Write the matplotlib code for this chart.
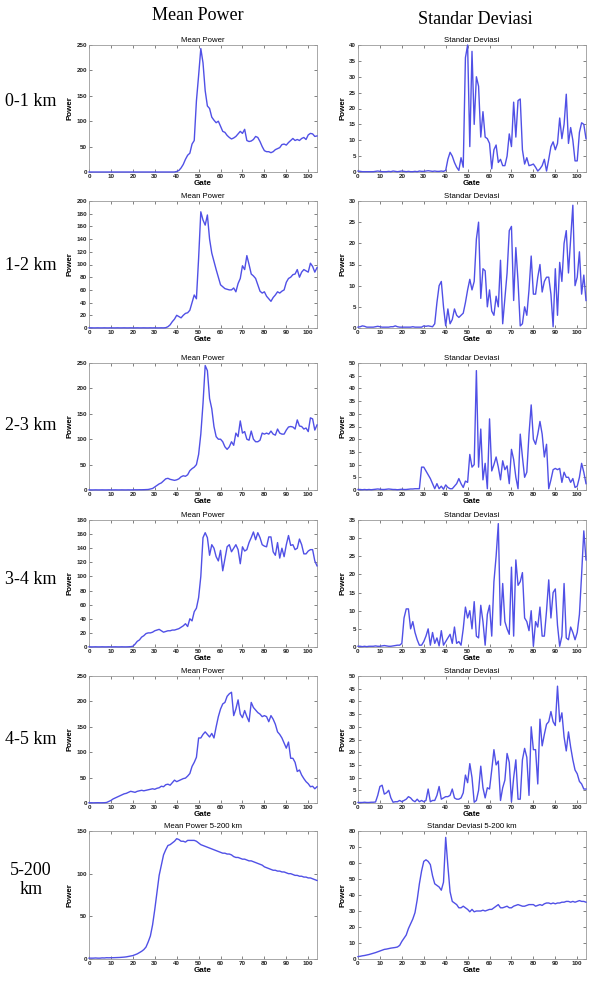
"""
Mean power and standard deviation per gate, six height ranges (0-1 km .. 5-200 km)
"""

import matplotlib
matplotlib.use('Agg')
import matplotlib.pyplot as plt
import numpy as np

plt.rcParams['font.family'] = 'Liberation Sans'

gate = np.arange(0, 105)

# ---- 0-1 km ----
mean_0_1 = [0, 0, 0, 0, 0, 0, 0, 0, 0, 0,
            0, 0, 0, 0, 0, 0, 0, 0, 0, 0,
            0, 0, 0, 0, 0, 0, 0, 0, 0, 0,
            0, 0, 0, 0, 0, 0, 0, 0, 0, 0,
            1, 3, 8, 15, 25, 33, 37, 55, 62, 140,
            190, 243, 215, 160, 130, 125, 108, 102, 97, 100,
            90, 80, 78, 72, 68, 65, 67, 70, 75, 80,
            76, 84, 62, 60, 61, 64, 70, 68, 60, 50,
            42, 40, 40, 38, 40, 44, 46, 48, 54, 55,
            53, 58, 62, 66, 62, 64, 62, 66, 68, 64,
            73, 76, 75, 70, 71]
std_0_1 = [0.3, 0.2, 0.1, 0.1, 0.1, 0.1, 0.1, 0.1, 0.2, 0.3,
           0.2, 0.1, 0.1, 0.1, 0.2, 0.1, 0.3, 0.2, 0.1, 0.2,
           0.3, 0.2, 0.1, 0.2, 0.1, 0.1, 0.2, 0.1, 0.3, 0.2,
           0.2, 0.3, 0.4, 0.3, 0.2, 0.3, 0.2, 0.2, 0.3, 0.2,
           0.5, 4, 6.2, 5, 3, 1.5, 0.5, 4.5, 1.5, 36,
           40, 8, 38, 15, 30, 27, 11, 19, 11, 10.5,
           9, 1, 7, 8.5, 3, 4, 2, 2, 5, 12,
           8, 22, 11, 22.5, 23, 7, 2.5, 4.5, 2, 2.2,
           2.5, 1.5, 0.3, 1, 2, 4, 0.3, 4, 8, 9.5,
           7, 9, 17, 10.5, 15, 24.5, 9, 14, 10, 3.5,
           3.5, 12.5, 15.5, 15, 10.5]

# ---- 1-2 km ----
mean_1_2 = [0.3, 0.3, 0.2, 0.2, 0.3, 0.2, 0.2, 0.3, 0.2, 0.2,
            0.3, 0.2, 0.2, 0.3, 0.2, 0.2, 0.3, 0.2, 0.2, 0.3,
            0.2, 0.2, 0.3, 0.2, 0.2, 0.3, 0.2, 0.2, 0.3, 0.2,
            0.3, 0.2, 0.2, 0.3, 0.2, 0.5, 2, 5, 10, 14,
            20, 18, 16, 20, 23, 24, 28, 40, 52, 46,
            110, 183, 170, 162, 178, 140, 118, 105, 92, 80,
            68, 65, 62, 61, 60, 60, 63, 57, 70, 78,
            98, 92, 114, 100, 85, 82, 78, 68, 58, 55,
            57, 50, 46, 42, 48, 52, 57, 55, 58, 60,
            72, 78, 80, 84, 85, 92, 80, 88, 92, 90,
            88, 102, 97, 88, 95]
std_1_2 = [0.2, 0.3, 0.5, 0.4, 0.2, 0.2, 0.2, 0.2, 0.3, 0.4,
           0.3, 0.2, 0.2, 0.2, 0.2, 0.3, 0.3, 0.5, 0.3, 0.2,
           0.2, 0.2, 0.2, 0.2, 0.2, 0.3, 0.2, 0.2, 0.2, 0.2,
           0.5, 0.4, 0.5, 0.4, 0.3, 1, 6, 10, 11, 5,
           0.5, 4.5, 1, 2, 4.5, 3, 2.5, 3, 3.5, 6,
           9, 11.5, 9, 11, 21, 25, 7, 14, 13.5, 5,
           9, 4, 3, 7.5, 5, 16, 1, 7, 13, 23,
           24, 6.5, 19, 11, 0.5, 1, 5, 3, 9, 17,
           8, 8, 12, 15, 8.5, 11, 12, 12, 8, 0.3,
           14, 3, 15.5, 11, 20, 23, 13, 21, 29, 10,
           12, 18, 8, 12.5, 6.5]

# ---- 2-3 km ----
mean_2_3 = [0.3, 0.2, 0.2, 0.3, 0.2, 0.2, 0.3, 0.2, 0.2, 0.3,
            0.2, 0.2, 0.3, 0.2, 0.2, 0.3, 0.2, 0.2, 0.3, 0.2,
            0.3, 0.4, 0.4, 0.5, 0.5, 0.6, 0.8, 1, 2, 3,
            6, 9, 12, 14, 18, 22, 23, 21, 20, 19,
            20, 22, 26, 28, 27, 30, 38, 42, 45, 50,
            70, 110, 170, 245, 235, 180, 160, 125, 105, 100,
            100, 95, 85, 80, 85, 95, 88, 112, 105, 136,
            112, 115, 100, 98, 116, 100, 95, 95, 98, 112,
            110, 112, 110, 116, 110, 108, 120, 112, 110, 110,
            118, 124, 125, 124, 120, 138, 126, 125, 120, 122,
            115, 142, 140, 118, 128]
std_2_3 = [0.2, 0.2, 0.1, 0.2, 0.1, 0.2, 0.1, 0.2, 0.3, 0.4,
           0.3, 0.2, 0.2, 0.3, 0.4, 0.3, 0.2, 0.2, 0.1, 0.2,
           0.3, 0.2, 0.2, 0.3, 0.4, 0.4, 0.5, 0.5, 0.5, 9,
           9, 7.5, 6, 4.5, 2.5, 0.5, 2.5, 0.5, 1.5, 0.3,
           2, 1, 0.5, 0.5, 1.5, 2.5, 4.5, 2.5, 1, 3.5,
           3, 14, 9, 10, 47, 9, 24, 4, 10.5, 0.5,
           28, 7.5, 10, 13, 9, 4, 11.5, 8, 9.5, 2.5,
           16, 12, 5, 0.5, 22, 13, 5, 7, 22, 33.5,
           20, 18, 22, 27, 22, 13, 18, 0.5, 4, 8,
           8.5, 8, 8.5, 3, 7, 5, 5, 3, 4.5, 1,
           1.5, 5, 10.5, 7, 2.5]

# ---- 3-4 km ----
mean_3_4 = [0.3, 0.2, 0.2, 0.3, 0.2, 0.2, 0.3, 0.2, 0.2, 0.3,
            0.2, 0.2, 0.3, 0.2, 0.2, 0.3, 0.2, 0.2, 0.3, 0.5,
            1, 4, 8, 10, 14, 16, 19, 20, 20, 21,
            23, 24, 25, 23, 21, 22, 23, 23, 24, 24,
            25, 26, 28, 30, 33, 29, 40, 37, 50, 55,
            70, 100, 155, 162, 155, 130, 145, 140, 128, 122,
            137, 108, 125, 142, 145, 135, 140, 145, 138, 118,
            142, 136, 138, 148, 155, 163, 152, 162, 155, 145,
            143, 142, 156, 156, 135, 130, 148, 126, 140, 128,
            145, 158, 144, 145, 138, 140, 153, 145, 132, 132,
            136, 138, 138, 122, 115]
std_3_4 = [0.2, 0.2, 0.1, 0.2, 0.1, 0.2, 0.2, 0.2, 0.3, 0.2,
           0.2, 0.3, 0.4, 0.3, 0.2, 0.2, 0.3, 0.4, 0.5, 0.5,
           1, 8, 10.5, 10.5, 5, 7, 4, 2, 0.5, 0.5,
           1.5, 3, 5, 0.5, 4, 1, 2.5, 0.3, 4.5, 0.5,
           1.5, 2.5, 3.5, 1, 5.5, 1, 1.5, 0.5, 5, 11,
           8, 10, 5, 12.5, 3, 2.5, 11.5, 7, 0.5, 9,
           11.5, 3, 18, 25, 34, 6, 17.5, 7, 5, 3.5,
           22, 3, 24, 17, 18, 20.5, 8, 7, 4.5, 10,
           0.2, 7, 5.5, 11, 3, 3, 10, 18.5, 8, 15,
           16, 6, 0.2, 3, 17.5, 2.5, 2, 5.5, 4, 2,
           4, 9, 20, 32, 24]

# ---- 4-5 km ----
mean_4_5 = [0.5, 0.5, 0.4, 0.5, 0.6, 0.5, 0.5, 0.6, 1, 3,
            5, 8, 10, 12, 14, 16, 18, 19, 21, 23,
            22, 21, 23, 24, 25, 24, 25, 26, 27, 28,
            27, 29, 30, 33, 32, 36, 37, 35, 40, 45,
            42, 44, 46, 48, 49, 53, 58, 72, 80, 90,
            128, 128, 135, 140, 135, 130, 137, 128, 150, 170,
            185, 195, 198, 210, 215, 218, 172, 185, 203, 175,
            168, 182, 170, 160, 198, 188, 183, 178, 175, 170,
            172, 170, 160, 172, 165, 155, 140, 135, 128, 118,
            108, 120, 88, 88, 80, 62, 65, 55, 48, 42,
            38, 32, 33, 28, 32]
std_4_5 = [0.2, 0.2, 0.2, 0.3, 0.2, 0.2, 0.3, 0.3, 0.4, 3,
           6.5, 7, 3.5, 4, 5, 2, 0.3, 0.5, 0.5, 1,
           0.5, 1, 1.5, 2.5, 2, 1, 0.5, 1.5, 0.5, 1,
           0.5, 1, 5.5, 0.5, 1, 1, 3, 6.5, 1.5, 2,
           2.5, 2.5, 3, 5.5, 2, 1.5, 1.5, 2, 4, 11,
           8, 15.5, 10, 0.3, 1, 5, 14.5, 6, 2, 6,
           5.5, 13, 21, 15, 16.5, 1, 6, 9, 19.5, 16,
           0.5, 10, 17, 1.5, 1.5, 17, 21.5, 18, 3, 30,
           21, 21, 7.5, 33, 22.5, 27, 31, 32, 36, 32,
           30.5, 46, 32, 35.5, 26, 20.5, 28, 22, 17, 13,
           11.5, 8.5, 7.5, 5.5, 5.5]

# ---- 5-200 km ----
mean_5_200 = [1, 1, 1, 1.2, 1, 1, 1.3, 1.2, 1.5, 1.4,
              1.5, 1.5, 1.6, 1.7, 1.8, 2, 2.2, 2.5, 3, 3.5,
              4, 5, 6, 7.5, 9, 11, 14, 20, 27, 40,
              58, 78, 98, 110, 122, 128, 133, 134, 136, 138,
              141, 140, 138, 138, 137, 139, 139, 139, 139, 138,
              136, 134, 133, 132, 131, 130, 129, 128, 127, 126,
              125, 124, 124, 123, 123, 122, 120, 119, 119, 118,
              117, 117, 116, 115, 115, 114, 113, 112, 111, 110,
              108, 107, 106, 105, 104, 104, 103, 103, 102, 102,
              101, 100, 100, 99, 98, 98, 97, 97, 96, 96,
              95, 95, 94, 93, 92]
std_5_200 = [1.5, 1.7, 2, 2.2, 2.5, 2.8, 3.2, 3.6, 4, 4.5,
             5, 5.5, 6, 6.2, 6.5, 6.8, 7, 7.2, 7.5, 8.5,
             11, 13, 15, 19, 22, 25, 29, 37, 47, 55,
             61, 62, 61, 59, 52, 47, 46, 45, 43, 48,
             76, 58, 42, 36, 35, 34, 32, 32, 33, 32,
             31, 29.5, 31, 29.5, 30, 30, 30, 30.5, 30, 30.5,
             31, 31, 32, 33, 34, 32, 32, 32.5, 33, 32,
             32, 33, 33.5, 34, 33.5, 33, 33, 33.5, 34, 34,
             34, 33, 33.5, 34, 33.5, 34.5, 35, 35, 34.5, 35,
             34.5, 35, 35, 35.5, 35.5, 36, 36, 35.5, 36, 35.5,
             36, 36.5, 36, 36, 35.5]

row_labels = ['0-1 km', '1-2 km', '2-3 km', '3-4 km', '4-5 km', '5-200\nkm']
mean_series = [mean_0_1, mean_1_2, mean_2_3, mean_3_4, mean_4_5, mean_5_200]
std_series = [std_0_1, std_1_2, std_2_3, std_3_4, std_4_5, std_5_200]
mean_titles = ['Mean Power'] * 5 + ['Mean Power 5-200 km']
std_titles = ['Standar Deviasi'] * 5 + ['Standar Deviasi 5-200 km']
mean_yticks = [np.arange(0, 251, 50), np.arange(0, 201, 20), np.arange(0, 251, 50),
               np.arange(0, 181, 20), np.arange(0, 251, 50), np.arange(0, 151, 50)]
std_yticks = [np.arange(0, 41, 5), np.arange(0, 31, 5), np.arange(0, 51, 5),
              np.arange(0, 36, 5), np.arange(0, 51, 5), np.arange(0, 81, 10)]
xticks = np.arange(0, 101, 10)

# layout in pixels (figure 603 x 989)
W, H = 603, 989
row_px = [(45, 172), (201, 328), (363, 490), (520, 647), (676, 803), (831, 959)]
label_y = [102, 265, 425, 580, 740, 880]
col_px = [(89, 317), (358, 586)]

LINE = '#5050e6'

fig = plt.figure(figsize=(W / 100, H / 100), dpi=100)


def style(ax, yt, title):
    ax.set_xlim(0, 104)
    ax.set_ylim(yt[0], yt[-1])
    ax.set_xticks(xticks)
    ax.set_yticks(yt)
    ax.tick_params(direction='in', length=2, width=0.4, labelsize=4.5, pad=1.5,
                   top=True, right=True, colors='#222222')
    for lab in ax.get_xticklabels() + ax.get_yticklabels():
        lab.set_fontweight('bold')
    for sp in ax.spines.values():
        sp.set_color('#9a9a9a')
        sp.set_linewidth(0.6)
    ax.set_xlabel('Gate', fontsize=5.8, fontweight='bold', labelpad=0.5)
    ax.set_ylabel('Power', fontsize=5.8, fontweight='bold', labelpad=2)
    ax.set_title(title, fontsize=5.6, pad=2.5)


for i in range(6):
    top, bot = row_px[i]
    for j, (series, titles, yts) in enumerate([(mean_series, mean_titles, mean_yticks),
                                               (std_series, std_titles, std_yticks)]):
        l, r = col_px[j]
        ax = fig.add_axes([l / W, 1 - bot / H, (r - l) / W, (bot - top) / H])
        ax.plot(gate, series[i], color=LINE, linewidth=1.0, clip_on=False, zorder=3)
        style(ax, yts[i], titles[i])
    fig.text(31 / W, 1 - label_y[i] / H, row_labels[i], family='Liberation Serif',
             fontsize=13, ha='center', va='center', linespacing=1.1)

fig.text(198 / W, 1 - 16 / H, 'Mean Power', family='Liberation Serif',
         fontsize=13, ha='center', va='center')
fig.text(475 / W, 1 - 20 / H, 'Standar Deviasi', family='Liberation Serif',
         fontsize=13, ha='center', va='center')

plt.savefig('out.png', dpi=100, facecolor='white')
plt.close()
